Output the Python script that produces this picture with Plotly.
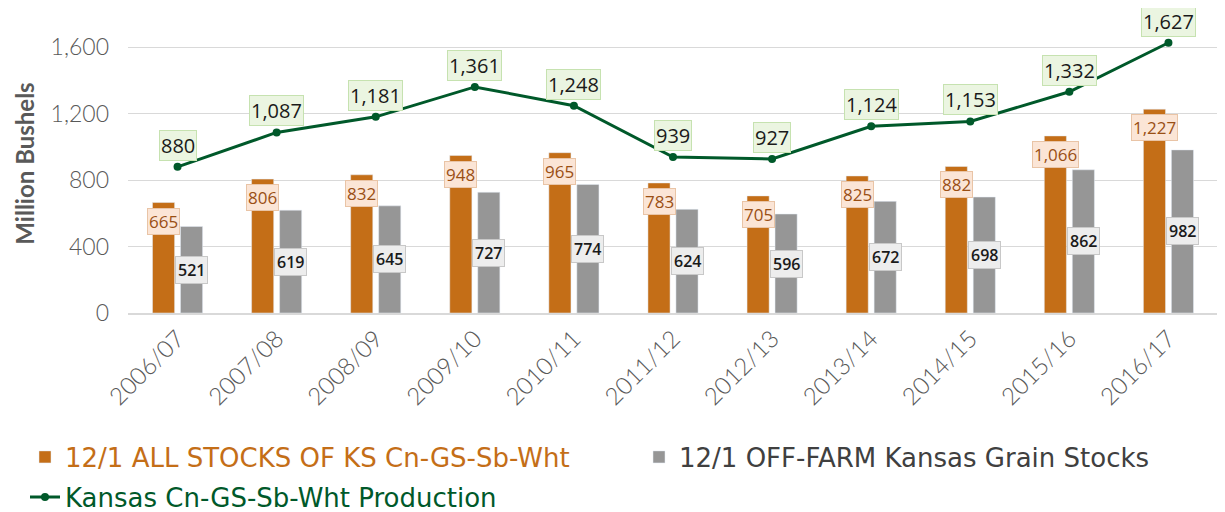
import plotly.graph_objects as go

categories = ["2006/07", "2007/08", "2008/09", "2009/10", "2010/11", "2011/12",
              "2012/13", "2013/14", "2014/15", "2015/16", "2016/17"]
all_stocks = [665, 806, 832, 948, 965, 783, 705, 825, 882, 1066, 1227]
off_farm = [521, 619, 645, 727, 774, 624, 596, 672, 698, 862, 982]
production = [880, 1087, 1181, 1361, 1248, 939, 927, 1124, 1153, 1332, 1627]

ORANGE = "#C46E17"
GRAY = "#969696"
GREEN = "#00592A"

fig = go.Figure()
fig.add_trace(go.Bar(
    x=categories, y=all_stocks, marker_color=ORANGE, legend="legend",
    name=f"<span style='color:{ORANGE}'>12/1 ALL STOCKS OF KS Cn-GS-Sb-Wht</span>"))
fig.add_trace(go.Bar(
    x=categories, y=off_farm, marker_color=GRAY, legend="legend2",
    name="<span style='color:#404040'>12/1 OFF-FARM Kansas Grain Stocks</span>"))
fig.add_trace(go.Scatter(
    x=categories, y=production, mode="lines+markers", legend="legend3",
    line=dict(color=GREEN, width=3), marker=dict(color=GREEN, size=8),
    name=f"<span style='color:{GREEN}'>Kansas Cn-GS-Sb-Wht Production</span>"))

LF = "Open Sans, Lato, sans-serif"
anns = []
for c, a, o, p in zip(categories, all_stocks, off_farm, production):
    anns.append(dict(x=c, y=a, text=f"{a:,}", showarrow=False, xshift=-14,
                     yanchor="top", yshift=-5, bgcolor="#FBE5D6",
                     bordercolor="#E9C4A6", borderwidth=1, borderpad=1,
                     font=dict(family=LF, size=17, weight=400, color="#9A4F14")))
    anns.append(dict(x=c, y=o / 2, text=f"{o:,}", showarrow=False, xshift=14,
                     yanchor="middle", bgcolor="#EDEDED",
                     bordercolor="#C8C8C8", borderwidth=1, borderpad=2,
                     font=dict(family=LF, size=16, weight=600, color="#1A1A1A")))
    anns.append(dict(x=c, y=p, text=f"{p:,}", showarrow=False,
                     yanchor="bottom", yshift=6, bgcolor="#EBF5E1",
                     bordercolor="#C6E2B0", borderwidth=1, borderpad=1,
                     font=dict(family=LF, size=20, weight=400, color="#1A1A1A")))

# page body adds an 8px offset; figure laid out in screen pixels minus 8
OFF = 8
W, H = 1225 - OFF, 512 - OFF
PL, PR, PT, PB = 128, 1218, 14, 313  # plot area in screen pixels

legfont = dict(family="DejaVu Sans, sans-serif", size=26)
def leg(x, y):
    return dict(orientation="h", x=x, xanchor="left", y=y, yanchor="middle",
                xref="paper", yref="paper", font=legfont, itemwidth=30,
                bgcolor="rgba(0,0,0,0)")

def py(pix):
    return (PB - pix) / float(PB - PT)
def px(pix):
    return (pix - PL) / float(PR - PL)

fig.update_layout(
    width=W, height=H,
    margin=dict(l=PL - OFF, r=W - (PR - OFF), t=PT - OFF, b=H - (PB - OFF),
                autoexpand=False),
    plot_bgcolor="white", paper_bgcolor="white",
    barmode="group", bargap=0.435, bargroupgap=0.21,
    annotations=anns,
    showlegend=True,
    legend=leg(px(25), py(457)),
    legend2=leg(px(639), py(457)),
    legend3=leg(px(25), py(497)),
    xaxis=dict(tickangle=-45, showline=True, linecolor="#D9D9D9", linewidth=2,
               ticks="", automargin=False, range=[-0.5, len(categories) - 0.5],
               tickfont=dict(family="Lato, DejaVu Sans, sans-serif",
                             size=24, weight=300, color="#595959")),
    yaxis=dict(range=[0, 1800], tickvals=[0, 400, 800, 1200, 1600],
               tickformat=",", gridcolor="#D9D9D9", gridwidth=1,
               zeroline=False, ticklabelstandoff=18, automargin=False,
               tickfont=dict(family="Lato, DejaVu Sans, sans-serif", size=23,
                             weight=300, color="#595959"),
               title=dict(text="Million Bushels", standoff=9,
                          font=dict(family="Lato, sans-serif", size=24,
                                    weight=700, color="#595959"))),
)

fig.write_html("out.html")
